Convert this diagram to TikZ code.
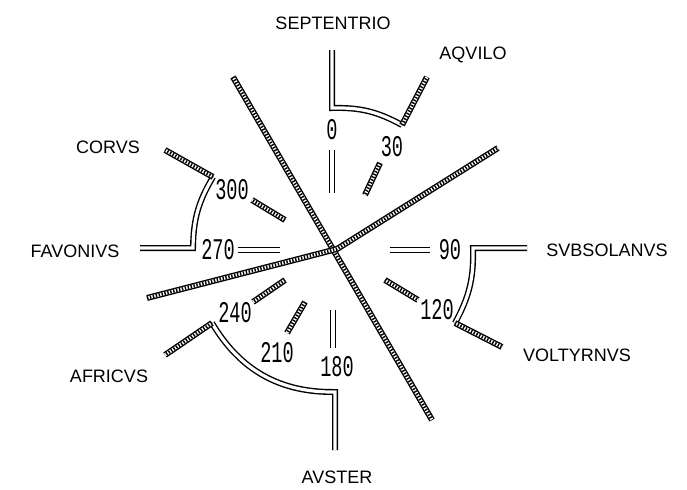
\documentclass[tikz,border=0pt]{standalone}
\usepackage{fontspec}
\setmainfont{Liberation Sans}
\newfontfamily\numfont[FakeStretch=0.62]{Liberation Mono}
\usetikzlibrary{calc,positioning}

\begin{document}
\begin{tikzpicture}[x=0.5pt,y=0.5pt]
  \tikzstyle{plain}=[draw, line width=0.7pt, double, double distance=1.6pt]
  \tikzstyle{rope}=[plain, postaction={draw, line width=1.6pt, dash pattern=on 0.7pt off 0.8pt}]
  \tikzstyle{wind}=[font=\fontsize{9}{10}\selectfont, inner sep=1pt]
  \tikzstyle{deg}=[font=\numfont\fontsize{15}{16}\selectfont, inner sep=1pt]
  \useasboundingbox (0,0) rectangle (687,489);

  % axes of the rose
  \coordinate (La) at (233,412);
  \coordinate (Lb) at (432,69);
  \coordinate (Ma) at (147,191);
  \coordinate (Mc) at (337,240);
  \coordinate (Mb) at (498,341);
  \draw[rope] (La) -- (Lb);
  \draw[rope] (Ma) -- (Mc) -- (Mb);

  % short ticks
  \foreach \n/\s/\xa/\ya/\xb/\yb in {0/plain/332/339/332/296, 30/rope/380/326/365/294,
      90/plain/390/239/430/239, 120/rope/385/209/418/189, 180/plain/333/179/333/141,
      210/rope/305/187/287/156, 240/rope/285/209/253/187, 270/plain/280/239/238/239,
      300/rope/285/269/252/289} {
    \coordinate (t\n a) at (\xa,\ya);
    \coordinate (t\n b) at (\xb,\yb);
    \draw[\s] (t\n a) -- (t\n b);
  }

  % degrees
  \foreach \n/\x/\y in {0/332/359, 30/392/342, 90/450/239, 120/437/179, 180/337/122,
      210/277/136, 240/235/176, 270/218/239, 300/232/299} {
    \node[deg] (d\n) at (\x,\y) {\n};
  }

  % winds
  \node[wind] (septentrio) at (333,466) {SEPTENTRIO};
  \node[wind] (aqvilo) at (473,434) {AQVILO};
  \node[wind] (corvs) at (108,342) {CORVS};
  \node[wind] (favonivs) at (75,238) {FAVONIVS};
  \node[wind] (svbsolanvs) at (607,239) {SVBSOLANVS};
  \node[wind] (voltyrnvs) at (577,134) {VOLTYRNVS};
  \node[wind] (africvs) at (109,113) {AFRICVS};
  \node[wind] (avster) at (337,12) {AVSTER};

  % leads
  \coordinate (sa) at (332,439);
  \coordinate (sb) at (332,381);
  \coordinate (sc) at (402,364);
  \coordinate (aq) at (427,412);
  \draw[plain] (sa) -- (sb) to[bend left=15] (sc);
  \draw[rope] (sc) -- (aq);

  \coordinate (fa) at (140,241);
  \coordinate (fb) at (193,241);
  \coordinate (fc) at (213,312);
  \coordinate (co) at (165,339);
  \draw[plain] (fa) -- (fb) to[bend left=15] (fc);
  \draw[rope] (fc) -- (co);

  \coordinate (ea) at (527,241);
  \coordinate (eb) at (473,241);
  \coordinate (ec) at (455,166);
  \coordinate (vo) at (502,142);
  \draw[plain] (ea) -- (eb) to[bend left=15] (ec);
  \draw[rope] (ec) -- (vo);

  \coordinate (aa) at (335,39);
  \coordinate (ab) at (335,97);
  \coordinate (ac) at (212,166);
  \coordinate (af) at (165,134);
  \draw[plain] (aa) -- (ab) to[bend left=30] (ac);
  \draw[rope] (ac) -- (af);
\end{tikzpicture}
\end{document}
